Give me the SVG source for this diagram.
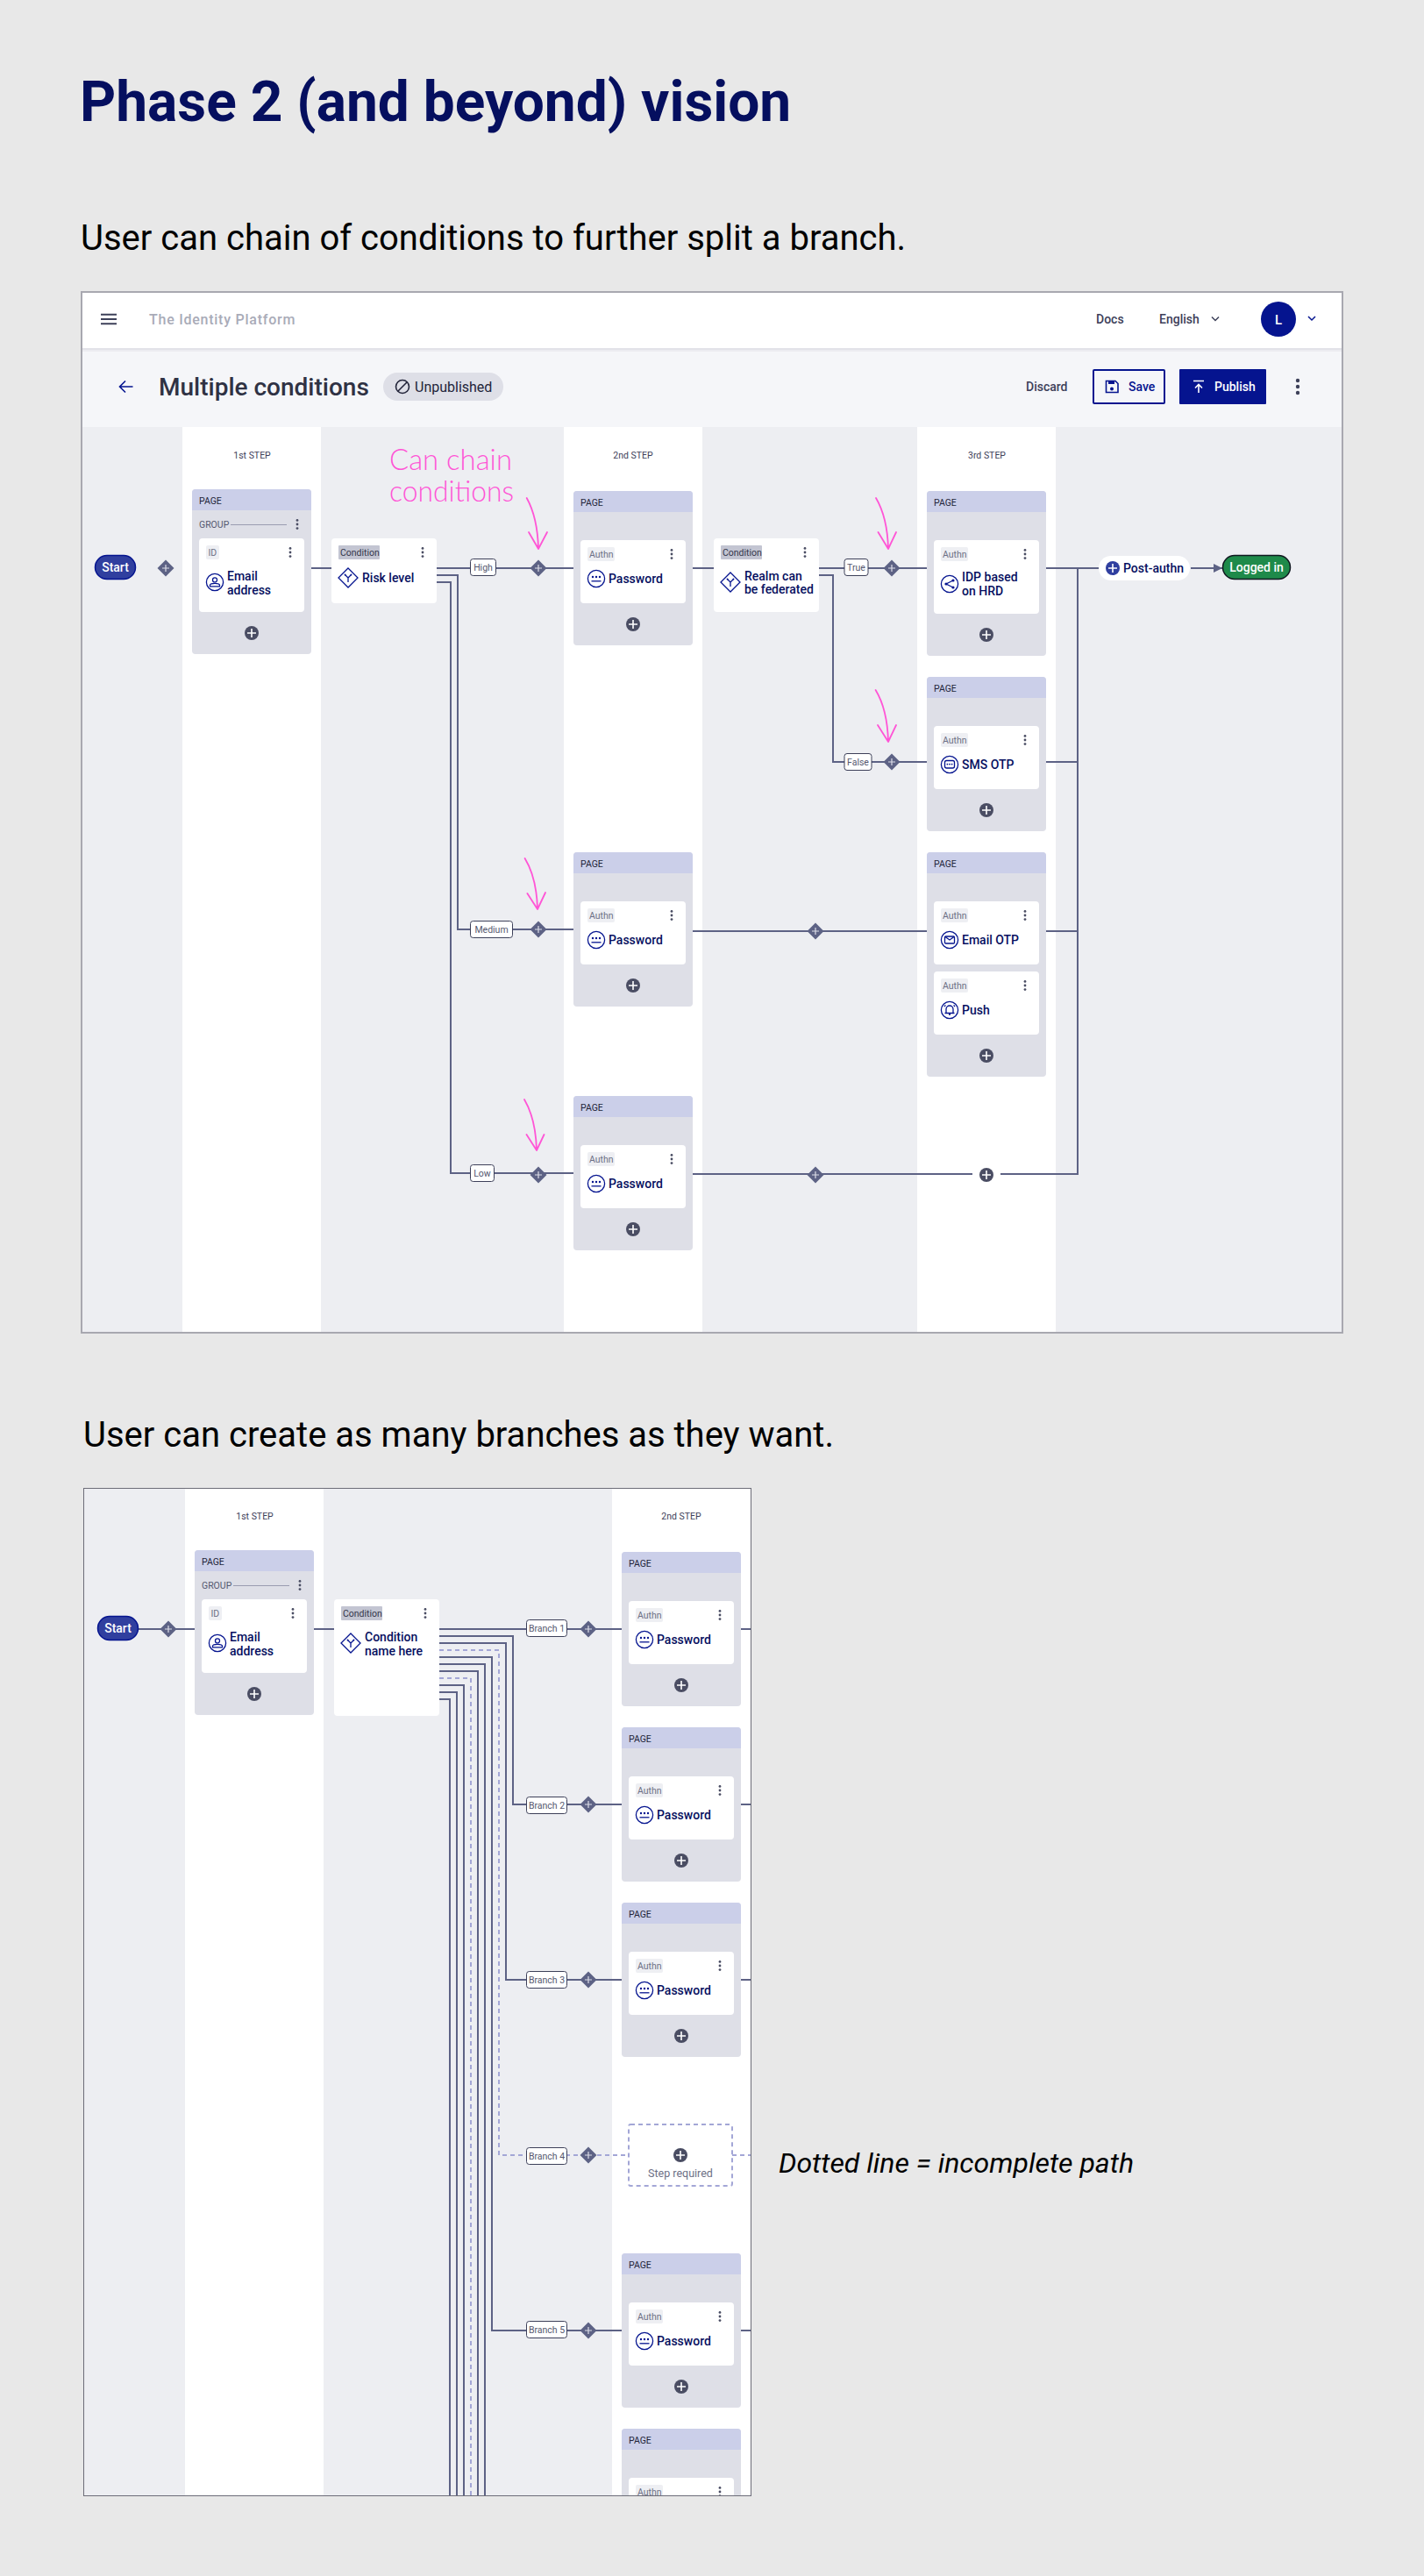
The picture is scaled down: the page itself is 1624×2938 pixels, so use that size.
<svg xmlns="http://www.w3.org/2000/svg" width="1624" height="2938" viewBox="0 0 1624 2938">
<style>
text{font-family:Roboto,"Liberation Sans",sans-serif}
.cv{fill:#edeef2}.cl{fill:#fff}
.ln{fill:none;stroke:#5d6285;stroke-width:2}
.ds{fill:none;stroke:#a3a6d6;stroke-width:2;stroke-dasharray:5 4}
.cd{fill:#fff}.tg{fill:#eeeff3}.ctg{fill:#c3c5d2}
.pt{font-size:10.5px;fill:#23253a}
.tt{font-size:10.5px;fill:#6c6f85}
.ctt{font-size:10.5px;fill:#33354a}
.nm{font-size:14px;font-weight:500;fill:#060f60}
.st{font-size:10.5px;fill:#3d4059;text-anchor:middle}
.lb{fill:#fff;stroke:#3d4059;stroke-width:1}
.lt{font-size:10.5px;fill:#55586f;text-anchor:middle}
.pl{font-size:14px;font-weight:500;fill:#fff;text-anchor:middle}
.ink{fill:none;stroke:#ff55d6;stroke-width:1.8;stroke-linecap:round;stroke-linejoin:round}
.ic{fill:none;stroke:#05148f;stroke-width:1.3}
.h1{font-size:64px;font-weight:700;fill:#050f5f}
.h2{font-size:40px;fill:#000}
.nv{font-size:14px;font-weight:500;fill:#3d4059}
.hw{font-family:Lato,sans-serif;font-size:33px;font-weight:300;fill:#ff55d6}
</style>
<defs>
<clipPath id="c2"><rect x="95" y="1697" width="762" height="1150"/></clipPath>
<marker id="ah" markerUnits="userSpaceOnUse" markerWidth="10" markerHeight="10" refX="10" refY="5" orient="auto"><path d="M0 0L10 5L0 10z" fill="#5d6285"/></marker>
<g id="plus"><circle r="8" fill="#4a4d63"/><path d="M-5 0H5M0-5V5" stroke="#fff" stroke-width="1.6"/></g>
<g id="dia"><path d="M0-9.500L9.500 0L0 9.500L-9.500 0z" fill="#5d6285"/><path d="M-4 0H4M0-4V4" stroke="#dcdde8" stroke-width="1.2"/></g>
<g id="dots" fill="#4a4d63"><circle cy="-4.600" r="1.400"/><circle r="1.400"/><circle cy="4.600" r="1.400"/></g>
<g id="pw"><circle class="ic" r="9.600"/><g fill="#05148f"><circle cx="-4" cy="-2" r="1.200"/><circle cy="-2" r="1.200"/><circle cx="4" cy="-2" r="1.200"/></g><path class="ic" d="M-5.500 2.800H5.500"/></g>
<g id="usr"><circle class="ic" r="9.600"/><circle class="ic" cy="-2.600" r="2.500"/><path class="ic" d="M-5.500 4.800V3.600Q-5.500 1.400 0 1.400T5.500 3.600V4.800z"/></g>
<g id="shr"><circle class="ic" r="9.600"/><g fill="#05148f"><circle cx="-4" r="1.600"/><circle cx="4" cy="-4" r="1.600"/><circle cx="4" cy="4" r="1.600"/></g><path class="ic" d="M4-4L-4 0L4 4"/></g>
<g id="sms"><circle class="ic" r="9.600"/><rect class="ic" x="-5.500" y="-4.500" width="11" height="8.500" rx="2"/><g fill="#05148f"><circle cx="-2.600" cy="-.4" r=".9"/><circle cy="-.4" r=".9"/><circle cx="2.600" cy="-.4" r=".9"/></g></g>
<g id="mai"><circle class="ic" r="9.600"/><rect class="ic" x="-5.500" y="-4" width="11" height="8" rx="1"/><path class="ic" d="M-5 -3.500L0 0L5 -3.500"/></g>
<g id="bel"><circle class="ic" r="9.600"/><path class="ic" d="M-4 3.500V-1A4 4 0 0 1 4-1V3.500zM-5.500 3.500H5.500M-1 5H1M-6-4L-4.600-5.600M6-4L4.600-5.600"/></g>
<g id="cnd"><path class="ic" d="M0-11L11 0L0 11L-11 0z"/><path class="ic" d="M0 5V0L-3.500-3.500M0 0L3.500-3.500"/><circle cx="-3.500" cy="-3.500" r=".9" fill="#05148f"/><circle cx="3.500" cy="-3.500" r=".9" fill="#05148f"/></g>
<path id="ph" d="M0 24V4A4 4 0 0 1 4 0H132A4 4 0 0 1 136 4V24z" fill="#cbcfe9"/>
</defs>
<rect width="1624" height="2938" fill="#e8e8e8"/>
<text class="h1" x="91" y="138">Phase 2 (and beyond) vision</text>
<text class="h2" x="92" y="285">User can chain of conditions to further split a branch.</text>

<g id="frame1">
<rect x="92" y="332" width="1440" height="1189" fill="#edeef2"/>
<rect x="92" y="332" width="1440" height="65" fill="#fff"/>
<rect x="92" y="397" width="1440" height="90" fill="#f5f6f9"/>
<rect x="92" y="397" width="1440" height="2" fill="#e2e2e8"/>
<rect x="92" y="399" width="1440" height="2" fill="#ececf1"/>
<rect class="cl" x="208" y="487" width="158" height="1034"/>
<rect class="cl" x="643" y="487" width="158" height="1034"/>
<rect class="cl" x="1046" y="487" width="158" height="1034"/>
</g>
<g id="topbar">
<path d="M115 358.700H133M115 364H133M115 369.300H133" stroke="#3d4059" stroke-width="2"/>
<text x="170" y="370" font-size="16" font-weight="500" fill="#a9abb8" letter-spacing=".75">The Identity Platform</text>
<text class="nv" x="1250" y="369">Docs</text>
<text class="nv" x="1322" y="369">English</text>
<path d="M1382 361.500L1386 365.500L1390 361.500" fill="none" stroke="#3d4059" stroke-width="1.500"/>
<circle cx="1458" cy="364" r="20" fill="#05148f"/>
<text x="1458" y="369.500" font-size="15" font-weight="500" fill="#fff" text-anchor="middle">L</text>
<path d="M1492 361L1496 365L1500 361" fill="none" stroke="#05148f" stroke-width="1.500"/>
</g>
<g id="toolbar">
<path d="M151.500 441H137M143 434.500L136.500 441L143 447.500" fill="none" stroke="#05148f" stroke-width="1.600"/>
<text x="181" y="451" font-size="28" font-weight="500" fill="#2f3244">Multiple conditions</text>
<rect x="437" y="425" width="137" height="32" rx="16" fill="#dedfe7"/>
<circle cx="459" cy="441" r="7.500" fill="none" stroke="#23253a" stroke-width="1.600"/>
<path d="M454 446L464 436" stroke="#23253a" stroke-width="1.600"/>
<text x="473" y="447" font-size="16" fill="#23253a">Unpublished</text>
<text class="nv" x="1170" y="446">Discard</text>
<rect x="1247" y="422" width="81" height="38" rx="1" fill="none" stroke="#05148f" stroke-width="2"/>
<path d="M1261.500 434.500H1272L1275 437.500V447.500H1261.500z" fill="none" stroke="#05148f" stroke-width="1.600"/>
<rect x="1264" y="435" width="7" height="3" fill="#05148f"/><circle cx="1268" cy="443.500" r="2" fill="#05148f"/>
<text x="1287" y="446" font-size="14" font-weight="500" fill="#05148f">Save</text>
<rect x="1345" y="421" width="99" height="40" rx="1" fill="#05148f"/>
<path d="M1361 434.500H1373M1367 448V439M1363 442.500L1367 438.500L1371 442.500" fill="none" stroke="#fff" stroke-width="1.600"/>
<text x="1385" y="446" font-size="14" font-weight="500" fill="#fff">Publish</text>
<g fill="#3d4059"><circle cx="1480" cy="434" r="2.200"/><circle cx="1480" cy="441" r="2.200"/><circle cx="1480" cy="448" r="2.200"/></g>
</g>
<g id="stepLabels">
<text class="st" x="287.500" y="523">1st STEP</text>
<text class="st" x="722" y="523">2nd STEP</text>
<text class="st" x="1125.500" y="523">3rd STEP</text>
</g>

<g id="connectors1">
<path class="ln" d="M355 648H378M498 648H654M498 656H522V1060H654M498 664H514V1338H654M790 648H814M934 648H1057M934 656H950V869H1057M1193 869H1229M790 1062H1057M1193 1062H1229M790 1339H1109M1141 1339H1229V648M1193 648H1253"/>
<path class="ln" d="M1358 648H1394" marker-end="url(#ah)"/>
</g>
<g id="edgeLabels1">
<rect class="lb" x="536.500" y="637.500" width="29" height="19" rx="3"/><text class="lt" x="551" y="651">High</text>
<rect class="lb" x="536.500" y="1050.500" width="48" height="19" rx="3"/><text class="lt" x="560.500" y="1064">Medium</text>
<rect class="lb" x="536.500" y="1328.500" width="27" height="19" rx="3"/><text class="lt" x="550" y="1342">Low</text>
<rect class="lb" x="963" y="637.500" width="27" height="19" rx="3"/><text class="lt" x="976.500" y="651">True</text>
<rect class="lb" x="963" y="859.500" width="31" height="19" rx="3"/><text class="lt" x="978.500" y="873">False</text>
<use href="#dia" x="614" y="648"/><use href="#dia" x="614" y="1060"/><use href="#dia" x="614" y="1340"/>
<use href="#dia" x="1017" y="648"/><use href="#dia" x="1017" y="869"/>
<use href="#dia" x="930" y="1062"/><use href="#dia" x="930" y="1340"/>
<use href="#dia" x="189" y="648"/>
<use href="#plus" x="1125" y="1340"/>
</g>

<g id="start1"><rect x="108.500" y="633.500" width="46" height="27" rx="13.500" fill="#303f9f" stroke="#05148f" stroke-width="1.500"/><text class="pl" x="131.500" y="652">Start</text></g>
<g id="page1a" transform="translate(219,558)"><rect width="136" height="188" rx="4" fill="#dedfe7"/><use href="#ph"/><text class="pt" x="8" y="17">PAGE</text><text class="tt" x="8" y="44" style="fill:#55586f">GROUP</text><path d="M44 40.500H108" stroke="#9a9cb0"/><use href="#dots" x="120" y="40"/>
<rect class="cd" x="8" y="56" width="120" height="84" rx="4"/><rect class="tg" x="16" y="64" width="15" height="16" rx="2"/><text class="tt" x="18.500" y="75.500">ID</text><use href="#dots" x="112" y="72"/><use href="#usr" x="26" y="106"/><text class="nm" x="40" y="104">Email</text><text class="nm" x="40" y="120">address</text><use href="#plus" x="68" y="164"/></g>
<g id="cond1" transform="translate(378,614)"><rect class="cd" width="120" height="74" rx="4"/><rect class="ctg" x="8" y="8" width="47" height="16" rx="1"/><text class="ctt" x="10" y="19.500">Condition</text><use href="#dots" x="104" y="16"/><use href="#cnd" x="19" y="45"/><text class="nm" x="35" y="50">Risk level</text></g>
<g id="page2a" transform="translate(654,560)"><rect width="136" height="176" rx="4" fill="#dedfe7"/><use href="#ph"/><text class="pt" x="8" y="17">PAGE</text><rect class="cd" x="8" y="56" width="120" height="72" rx="4"/><rect class="tg" x="16" y="64" width="31" height="16" rx="2"/><text class="tt" x="18" y="75.500">Authn</text><use href="#dots" x="112" y="72"/><use href="#pw" x="26" y="100"/><text class="nm" x="40" y="105">Password</text><use href="#plus" x="68" y="152"/></g>
<g id="cond2" transform="translate(814,614)"><rect class="cd" width="120" height="84" rx="4"/><rect class="ctg" x="8" y="8" width="47" height="16" rx="1"/><text class="ctt" x="10" y="19.500">Condition</text><use href="#dots" x="104" y="16"/><use href="#cnd" x="19" y="50"/><text class="nm" x="35" y="48">Realm can</text><text class="nm" x="35" y="63">be federated</text></g>
<g id="page3a" transform="translate(1057,560)"><rect width="136" height="188" rx="4" fill="#dedfe7"/><use href="#ph"/><text class="pt" x="8" y="17">PAGE</text><rect class="cd" x="8" y="56" width="120" height="84" rx="4"/><rect class="tg" x="16" y="64" width="31" height="16" rx="2"/><text class="tt" x="18" y="75.500">Authn</text><use href="#dots" x="112" y="72"/><use href="#shr" x="26" y="106"/><text class="nm" x="40" y="103">IDP based</text><text class="nm" x="40" y="119">on HRD</text><use href="#plus" x="68" y="164"/></g>
<g id="page3b" transform="translate(1057,772)"><rect width="136" height="176" rx="4" fill="#dedfe7"/><use href="#ph"/><text class="pt" x="8" y="17">PAGE</text><rect class="cd" x="8" y="56" width="120" height="72" rx="4"/><rect class="tg" x="16" y="64" width="31" height="16" rx="2"/><text class="tt" x="18" y="75.500">Authn</text><use href="#dots" x="112" y="72"/><use href="#sms" x="26" y="100"/><text class="nm" x="40" y="105">SMS OTP</text><use href="#plus" x="68" y="152"/></g>
<g id="page2b" transform="translate(654,972)"><rect width="136" height="176" rx="4" fill="#dedfe7"/><use href="#ph"/><text class="pt" x="8" y="17">PAGE</text><rect class="cd" x="8" y="56" width="120" height="72" rx="4"/><rect class="tg" x="16" y="64" width="31" height="16" rx="2"/><text class="tt" x="18" y="75.500">Authn</text><use href="#dots" x="112" y="72"/><use href="#pw" x="26" y="100"/><text class="nm" x="40" y="105">Password</text><use href="#plus" x="68" y="152"/></g>
<g id="page3c" transform="translate(1057,972)"><rect width="136" height="256" rx="4" fill="#dedfe7"/><use href="#ph"/><text class="pt" x="8" y="17">PAGE</text><rect class="cd" x="8" y="56" width="120" height="72" rx="4"/><rect class="tg" x="16" y="64" width="31" height="16" rx="2"/><text class="tt" x="18" y="75.500">Authn</text><use href="#dots" x="112" y="72"/><use href="#mai" x="26" y="100"/><text class="nm" x="40" y="105">Email OTP</text><rect class="cd" x="8" y="136" width="120" height="72" rx="4"/><rect class="tg" x="16" y="144" width="31" height="16" rx="2"/><text class="tt" x="18" y="155.500">Authn</text><use href="#dots" x="112" y="152"/><use href="#bel" x="26" y="180"/><text class="nm" x="40" y="185">Push</text><use href="#plus" x="68" y="232"/></g>
<g id="page2c" transform="translate(654,1250)"><rect width="136" height="176" rx="4" fill="#dedfe7"/><use href="#ph"/><text class="pt" x="8" y="17">PAGE</text><rect class="cd" x="8" y="56" width="120" height="72" rx="4"/><rect class="tg" x="16" y="64" width="31" height="16" rx="2"/><text class="tt" x="18" y="75.500">Authn</text><use href="#dots" x="112" y="72"/><use href="#pw" x="26" y="100"/><text class="nm" x="40" y="105">Password</text><use href="#plus" x="68" y="152"/></g>
<g id="postauthn"><rect x="1253" y="634" width="104" height="28" rx="14" fill="#fff"/><circle cx="1269" cy="648" r="8" fill="#303f9f"/><path d="M1264 648H1274M1269 643V653" stroke="#fff" stroke-width="1.600"/><text x="1281" y="653" font-size="14" font-weight="500" fill="#060f60">Post-authn</text></g>
<g id="loggedin"><rect x="1394.500" y="633.500" width="77" height="27" rx="13.500" fill="#1e8a4a" stroke="#101820" stroke-width="1.500"/><text class="pl" x="1433" y="652">Logged in</text></g>

<g id="annotations">
<text class="hw" x="444" y="536" textLength="140" lengthAdjust="spacingAndGlyphs">Can chain</text>
<text class="hw" x="444" y="572" textLength="142" lengthAdjust="spacingAndGlyphs">conditions</text>
<path class="ink" d="M600.700 568Q613 590 614 626M603 607L614 626L624 607"/>
<path class="ink" d="M999 568Q1012 590 1013 626M1001.500 607L1013 626L1022 607"/>
<path class="ink" d="M998.600 787Q1012 809 1013 846M1001 827L1013 846L1022 827"/>
<path class="ink" d="M598.600 979Q612 1001 613 1037M601.400 1019L613 1037L622 1018"/>
<path class="ink" d="M598 1254Q611 1276 612 1312M600.500 1294L612 1312L620.500 1294"/>
</g>
<rect x="93" y="333" width="1438" height="1187" fill="none" stroke="#a8a8b0" stroke-width="2"/>

<text class="h2" x="95" y="1650">User can create as many branches as they want.</text>

<g clip-path="url(#c2)">
<g id="frame2"><rect x="95" y="1697" width="762" height="1150" fill="#edeef2"/><rect class="cl" x="211" y="1697" width="158" height="1150"/><rect class="cl" x="698" y="1697" width="159" height="1150"/></g>
<text class="st" x="290.500" y="1733">1st STEP</text><text class="st" x="777" y="1733">2nd STEP</text>
<g id="connectors2">
<path class="ln" d="M158 1858H222M358 1858H381M501 1858H709M845 1858H857M501 1866H585V2058H709M845 2058H857M501 1874H577V2258H709M845 2258H857M501 1890H561V2658H709M845 2658H857M501 1898H553V2847M501 1906H545V2847M501 1922H529V2847M501 1930H521V2847M501 1938H513V2847"/>
<path class="ds" d="M501 1882H569V2458H717M835 2458H857M501 1914H537V2847"/>
</g>
<g id="edgeLabels2">
<rect class="lb" x="600.500" y="1847.500" width="46" height="19" rx="3"/><text class="lt" x="623.500" y="1861">Branch 1</text>
<rect class="lb" x="600.500" y="2049.500" width="46" height="19" rx="3"/><text class="lt" x="623.500" y="2063">Branch 2</text>
<rect class="lb" x="600.500" y="2248.500" width="46" height="19" rx="3"/><text class="lt" x="623.500" y="2262">Branch 3</text>
<rect class="lb" x="600.500" y="2449.500" width="46" height="19" rx="3"/><text class="lt" x="623.500" y="2463">Branch 4</text>
<rect class="lb" x="600.500" y="2647.500" width="46" height="19" rx="3"/><text class="lt" x="623.500" y="2661">Branch 5</text>
<use href="#dia" x="192" y="1858"/><use href="#dia" x="671" y="1858"/><use href="#dia" x="671" y="2058"/><use href="#dia" x="671" y="2258"/><use href="#dia" x="671" y="2458"/><use href="#dia" x="671" y="2658"/>
</g>
<g id="start2"><rect x="111.500" y="1843.500" width="46" height="27" rx="13.500" fill="#303f9f" stroke="#05148f" stroke-width="1.500"/><text class="pl" x="134.500" y="1862">Start</text></g>
<g id="page1x" transform="translate(222,1768)"><rect width="136" height="188" rx="4" fill="#dedfe7"/><use href="#ph"/><text class="pt" x="8" y="17">PAGE</text><text class="tt" x="8" y="44" style="fill:#55586f">GROUP</text><path d="M44 40.500H108" stroke="#9a9cb0"/><use href="#dots" x="120" y="40"/>
<rect class="cd" x="8" y="56" width="120" height="84" rx="4"/><rect class="tg" x="16" y="64" width="15" height="16" rx="2"/><text class="tt" x="18.500" y="75.500">ID</text><use href="#dots" x="112" y="72"/><use href="#usr" x="26" y="106"/><text class="nm" x="40" y="104">Email</text><text class="nm" x="40" y="120">address</text><use href="#plus" x="68" y="164"/></g>
<g id="condx" transform="translate(381,1824)"><rect class="cd" width="120" height="133" rx="4"/><rect class="ctg" x="8" y="8" width="47" height="16" rx="1"/><text class="ctt" x="10" y="19.500">Condition</text><use href="#dots" x="104" y="16"/><use href="#cnd" x="19" y="50"/><text class="nm" x="35" y="48">Condition</text><text class="nm" x="35" y="64">name here</text></g>
<g id="pb1" transform="translate(709,1770)"><rect width="136" height="176" rx="4" fill="#dedfe7"/><use href="#ph"/><text class="pt" x="8" y="17">PAGE</text><rect class="cd" x="8" y="56" width="120" height="72" rx="4"/><rect class="tg" x="16" y="64" width="31" height="16" rx="2"/><text class="tt" x="18" y="75.500">Authn</text><use href="#dots" x="112" y="72"/><use href="#pw" x="26" y="100"/><text class="nm" x="40" y="105">Password</text><use href="#plus" x="68" y="152"/></g>
<g id="pb2" transform="translate(709,1970)"><rect width="136" height="176" rx="4" fill="#dedfe7"/><use href="#ph"/><text class="pt" x="8" y="17">PAGE</text><rect class="cd" x="8" y="56" width="120" height="72" rx="4"/><rect class="tg" x="16" y="64" width="31" height="16" rx="2"/><text class="tt" x="18" y="75.500">Authn</text><use href="#dots" x="112" y="72"/><use href="#pw" x="26" y="100"/><text class="nm" x="40" y="105">Password</text><use href="#plus" x="68" y="152"/></g>
<g id="pb3" transform="translate(709,2170)"><rect width="136" height="176" rx="4" fill="#dedfe7"/><use href="#ph"/><text class="pt" x="8" y="17">PAGE</text><rect class="cd" x="8" y="56" width="120" height="72" rx="4"/><rect class="tg" x="16" y="64" width="31" height="16" rx="2"/><text class="tt" x="18" y="75.500">Authn</text><use href="#dots" x="112" y="72"/><use href="#pw" x="26" y="100"/><text class="nm" x="40" y="105">Password</text><use href="#plus" x="68" y="152"/></g>
<g id="stepreq"><rect x="717" y="2423" width="118" height="70" rx="2" fill="#fff" stroke="#a3a6d6" stroke-width="2" stroke-dasharray="5 4"/><use href="#plus" x="776" y="2458"/><text x="776" y="2483" font-size="12.500" fill="#6c6f85" text-anchor="middle">Step required</text></g>
<g id="pb5" transform="translate(709,2570)"><rect width="136" height="176" rx="4" fill="#dedfe7"/><use href="#ph"/><text class="pt" x="8" y="17">PAGE</text><rect class="cd" x="8" y="56" width="120" height="72" rx="4"/><rect class="tg" x="16" y="64" width="31" height="16" rx="2"/><text class="tt" x="18" y="75.500">Authn</text><use href="#dots" x="112" y="72"/><use href="#pw" x="26" y="100"/><text class="nm" x="40" y="105">Password</text><use href="#plus" x="68" y="152"/></g>
<g id="pb6" transform="translate(709,2770)"><rect width="136" height="176" rx="4" fill="#dedfe7"/><use href="#ph"/><text class="pt" x="8" y="17">PAGE</text><rect class="cd" x="8" y="56" width="120" height="72" rx="4"/><rect class="tg" x="16" y="64" width="31" height="16" rx="2"/><text class="tt" x="18" y="75.500">Authn</text><use href="#dots" x="112" y="72"/></g>
</g>
<rect x="95.500" y="1697.500" width="761" height="1149" fill="none" stroke="#6d6d78" stroke-width="1"/>
<text x="888" y="2478" font-size="32" font-style="italic" fill="#000">Dotted line = incomplete path</text>
</svg>
